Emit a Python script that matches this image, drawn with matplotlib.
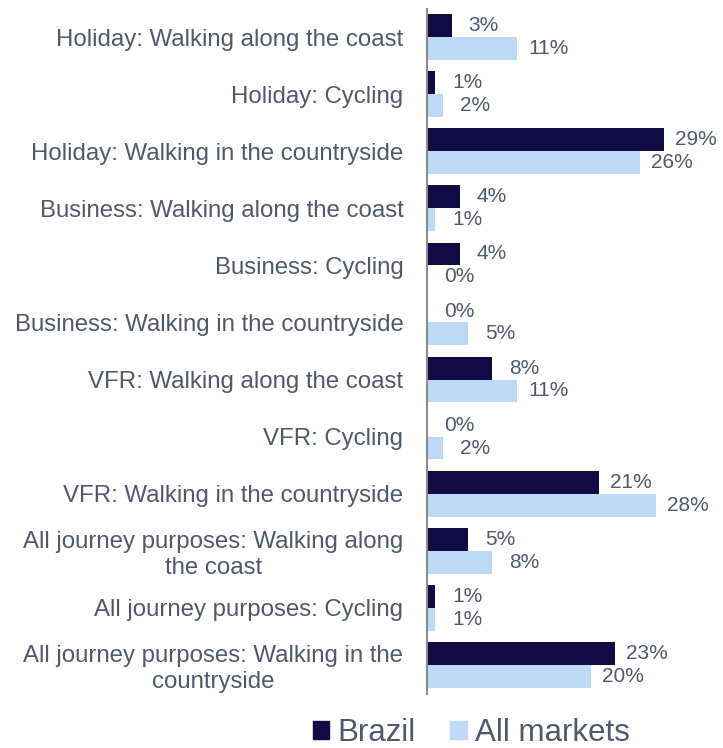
import matplotlib
matplotlib.use("Agg")
import matplotlib.pyplot as plt
from matplotlib.patches import Patch
import numpy as np

plt.rcParams['font.family'] = ['Liberation Sans', 'DejaVu Sans']

categories = [
    "Holiday: Walking along the coast",
    "Holiday: Cycling",
    "Holiday: Walking in the countryside",
    "Business: Walking along the coast",
    "Business: Cycling",
    "Business: Walking in the countryside",
    "VFR: Walking along the coast",
    "VFR: Cycling",
    "VFR: Walking in the countryside",
    "All journey purposes: Walking along\nthe coast",
    "All journey purposes: Cycling",
    "All journey purposes: Walking in the\ncountryside",
]
brazil = [3, 1, 29, 4, 4, 0, 8, 0, 21, 5, 1, 23]
all_markets = [11, 2, 26, 1, 0, 5, 11, 2, 28, 8, 1, 20]
series_names = ["Brazil", "All markets"]

c_brazil = "#120A45"
c_all = "#BED9F6"
txt = "#4F5969"

fig = plt.figure(figsize=(7.23, 7.48), dpi=100)
ax = fig.add_axes([427/723, 1-693.5/748, 289/723, 685/748])

n = len(categories)
y = np.arange(n)
h = 0.4
b1 = ax.barh(y - h/2, brazil, height=h, color=c_brazil)
b2 = ax.barh(y + h/2, all_markets, height=h, color=c_all)

for bars, vals in ((b1, brazil), (b2, all_markets)):
    for rect, v in zip(bars, vals):
        ax.annotate(f"{v}%", (rect.get_width(), rect.get_y() + rect.get_height()/2),
                    xytext=(23, 0), textcoords="offset points",
                    ha="center", va="center", fontsize=15, color=txt)

ax.set_ylim(n - 0.5, -0.5)
ax.set_xlim(0, 35.3)
ax.set_yticks(y)
ax.set_yticklabels(categories, fontsize=17.3, color=txt, multialignment="center")
ax.tick_params(axis="y", length=0, pad=17)
ax.set_xticks([])
for s in ["top", "right", "bottom"]:
    ax.spines[s].set_visible(False)
ax.spines["left"].set_color("#8C8C8C")
ax.spines["left"].set_linewidth(1.5)

handles = [Patch(color=c_brazil), Patch(color=c_all)]
leg = fig.legend(handles, series_names, loc="center", bbox_to_anchor=(0.652, 0.02),
                 ncol=2, frameon=False, fontsize=22.5, handlelength=0.52, handleheight=0.52,
                 handletextpad=0.28, columnspacing=1.1, borderaxespad=0, borderpad=0)
for t in leg.get_texts():
    t.set_color(txt)

fig.savefig("out.png", dpi=100)
